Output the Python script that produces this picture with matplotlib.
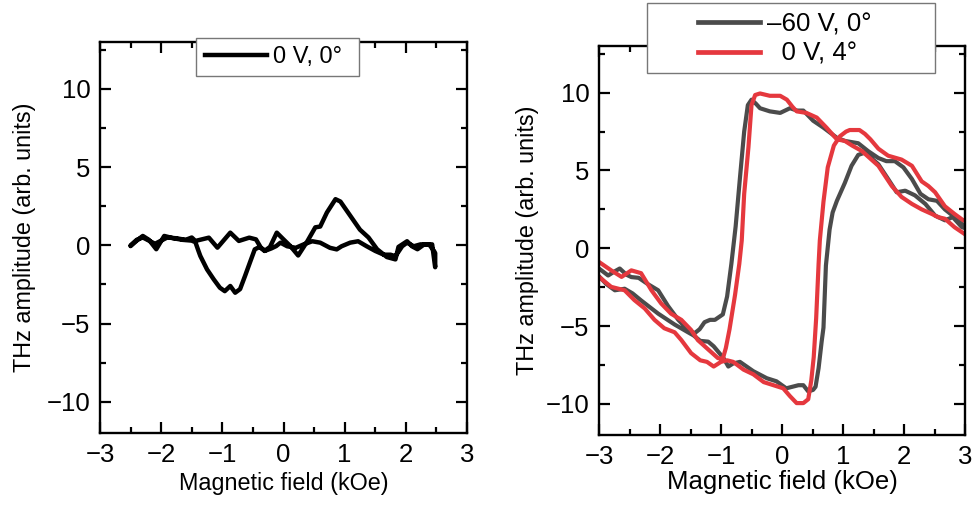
import matplotlib
matplotlib.use("Agg")
import matplotlib.pyplot as plt
from matplotlib.ticker import MultipleLocator
from matplotlib.patches import Rectangle
from matplotlib.lines import Line2D

plt.rcParams['font.family'] = ['Liberation Sans', 'DejaVu Sans']

# ---------------- data: left panel (0 V, 0°) ----------------
left_x_fwd = [-2.5, -2.4, -2.3, -2.2, -2.08, -1.95, -1.8, -1.65, -1.5, -1.44,
              -1.39, -1.36, -1.25, -1.14, -1.04, -0.96, -0.87, -0.79, -0.71, -0.63,
              -0.55, -0.47, -0.39, -0.31, -0.22, -0.11, 0.0, 0.11, 0.24, 0.39,
              0.52, 0.6, 0.71, 0.85, 0.93, 1.09, 1.25, 1.39, 1.53, 1.69,
              1.83, 1.88, 2.02, 2.1, 2.19, 2.3, 2.43, 2.48]
left_y_fwd = [-0.05, 0.3, 0.6, 0.35, -0.25, 0.6, 0.45, 0.35, 0.3, 0.2,
              -0.36, -0.68, -1.54, -2.18, -2.71, -2.93, -2.6, -3.03, -2.8, -1.97,
              -1.11, -0.26, -0.1, -0.36, -0.1, 0.81, 0.38, -0.04, -0.65, 0.26,
              1.15, 1.2, 2.1, 2.95, 2.8, 1.9, 1.0, 0.5, -0.25, -0.75,
              -0.9, -0.1, 0.26, -0.06, -0.25, 0.06, 0.06, -1.4]
left_x_bwd = [2.48, 2.46, 2.38, 2.24, 2.13, 2.02, 1.94, 1.83, 1.75, 1.64,
              1.5, 1.36, 1.22, 1.09, 0.95, 0.87, 0.76, 0.6, 0.47, 0.33,
              0.2, 0.06, -0.05, -0.12, -0.2, -0.3, -0.37, -0.45, -0.56, -0.73,
              -0.87, -1.08, -1.22, -1.44, -1.5, -1.6, -1.75, -1.9, -2.0, -2.1,
              -2.2, -2.3, -2.4, -2.5]
left_y_bwd = [-0.5, -0.36, 0.06, 0.06, -0.06, 0.17, -0.06, -0.7, -0.6, -0.6,
              -0.36, -0.06, 0.26, 0.17, -0.06, -0.26, -0.16, 0.17, 0.26, 0.06,
              -0.16, -0.06, 0.17, -0.05, -0.2, -0.35, -0.15, 0.38, 0.49, 0.28,
              0.81, -0.15, 0.49, 0.28, 0.5, 0.35, 0.45, 0.5, 0.3, 0.1,
              0.3, 0.5, 0.35, 0.0]

# ---------------- data: right panel ----------------
# -60 V, 0° (gray): branch A (left -> right), branch B (right -> left)
gray_x_a = [-3.05, -3.0, -2.85, -2.75, -2.66, -2.55, -2.47, -2.35, -2.2, -2.03,
            -1.87, -1.7, -1.54, -1.43, -1.35, -1.27, -1.18, -1.1, -0.97, -0.9,
            -0.83, -0.76, -0.69, -0.62, -0.56, -0.5, -0.43, -0.36, -0.2, -0.03,
            0.13, 0.25, 0.35, 0.51, 0.68, 0.9, 1.03, 1.25, 1.41, 1.58,
            1.71, 1.85, 1.99, 2.13, 2.27, 2.4, 2.54, 2.67, 2.83, 3.0, 3.05]
gray_y_a = [-1.15, -1.3, -1.75, -1.5, -1.3, -1.7, -1.85, -1.9, -2.3, -2.7,
            -3.7, -4.6, -5.25, -5.45, -5.2, -4.75, -4.6, -4.6, -4.25, -3.1,
            -1.0, 1.4, 4.5, 7.5, 9.2, 9.55, 9.3, 9.0, 8.8, 8.7,
            9.0, 8.85, 8.85, 8.2, 7.75, 7.1, 6.9, 6.75, 6.25, 5.8,
            5.6, 5.6, 5.2, 4.45, 3.5, 3.15, 3.05, 2.5, 2.0, 1.4, 1.3]
gray_x_b = [3.05, 3.0, 2.95, 2.8, 2.67, 2.51, 2.35, 2.18, 2.02, 1.88,
            1.74, 1.58, 1.36, 1.25, 1.14, 1.03, 0.9, 0.83, 0.78, 0.72,
            0.68, 0.65, 0.6, 0.55, 0.51, 0.43, 0.35, 0.27, 0.17, 0.07,
            -0.09, -0.25, -0.47, -0.69, -0.8, -0.88, -0.96, -1.12, -1.21, -1.34,
            -1.45, -1.54, -1.76, -2.03, -2.31, -2.45, -2.58, -2.74, -2.88, -3.0, -3.05]
gray_y_b = [1.25, 1.3, 1.35, 2.0, 1.8, 2.1, 2.85, 3.4, 3.7, 3.6,
            4.45, 5.4, 6.15, 6.0, 5.3, 4.2, 3.05, 2.3, 1.2, -1.1,
            -5.1, -6.0, -7.7, -8.9, -9.1, -9.2, -8.8, -8.8, -8.9, -9.0,
            -8.55, -8.35, -7.9, -7.3, -7.4, -7.6, -7.05, -6.3, -6.0, -5.95,
            -5.6, -5.4, -4.9, -4.2, -3.35, -2.9, -2.6, -2.7, -2.3, -1.8, -1.7]

# 0 V, 4° (red)
red_x_a = [-3.05, -3.0, -2.8, -2.63, -2.47, -2.31, -2.14, -1.98, -1.82, -1.65,
           -1.49, -1.38, -1.21, -1.05, -0.97, -0.92, -0.86, -0.77, -0.7, -0.66,
           -0.62, -0.55, -0.5, -0.44, -0.36, -0.2, -0.03, 0.08, 0.17, 0.24,
           0.4, 0.57, 0.73, 0.9, 1.03, 1.15, 1.31, 1.58, 1.8, 1.96,
           2.13, 2.29, 2.46, 2.56, 2.67, 2.83, 3.0, 3.05]
red_y_a = [-0.8, -0.88, -1.42, -1.84, -1.42, -1.6, -2.7, -3.55, -4.2, -4.6,
           -5.25, -5.9, -6.5, -7.06, -7.1, -6.4, -5.2, -3.0, -1.0, 0.5,
           3.5, 6.5, 9.2, 9.85, 9.95, 9.8, 9.8, 9.55, 9.1, 8.8,
           8.7, 8.4, 7.75, 7.0, 6.9, 6.6, 6.25, 5.3, 4.0, 3.3,
           2.85, 2.5, 2.2, 2.0, 1.9, 1.35, 0.9, 0.8]
red_x_b = [3.05, 2.97, 2.83, 2.67, 2.51, 2.4, 2.29, 2.13, 1.96, 1.74,
           1.58, 1.45, 1.36, 1.27, 1.11, 1.05, 0.95, 0.85, 0.75, 0.68,
           0.62, 0.6, 0.56, 0.52, 0.48, 0.43, 0.35, 0.24, 0.13, 0.02,
           -0.14, -0.3, -0.47, -0.63, -0.8, -0.9, -1.0, -1.12, -1.23, -1.34,
           -1.49, -1.65, -1.76, -1.93, -2.09, -2.25, -2.42, -2.58, -2.8, -3.0, -3.05]
red_y_b = [1.85, 1.8, 2.2, 2.7, 3.6, 4.0, 4.3, 5.3, 5.7, 5.95,
           6.4, 7.0, 7.35, 7.6, 7.6, 7.5, 7.2, 6.6, 5.2, 3.0,
           0.5, -1.0, -4.5, -7.0, -8.5, -9.7, -9.95, -9.95, -9.5, -9.0,
           -8.8, -8.6, -8.1, -7.8, -7.3, -7.2, -7.3, -7.6, -7.3, -7.2,
           -6.74, -5.9, -5.4, -5.14, -4.6, -3.87, -3.33, -2.7, -2.48, -1.84, -1.7]

x_ticks = [-3, -2, -1, 0, 1, 2, 3]
y_ticks = [-10, -5, 0, 5, 10]
x_label = "Magnetic field (kOe)"
y_label = "THz amplitude (arb. units)"
label_left = "0 V, 0°"
label_gray = "–60 V, 0°"
label_red = "0 V, 4°"

GRAY = "#4b4b4b"
RED = "#e5383e"
W, H = 972, 507

fig = plt.figure(figsize=(W / 100, H / 100), dpi=100)
ax1 = fig.add_axes([100 / W, 1 - 433 / H, 367 / W, 391 / H])
ax2 = fig.add_axes([599 / W, 1 - 435 / H, 366 / W, 389 / H])


def style(ax, tick_fs, label_fs, xpad, ypad):
    ax.set_xlim(-3, 3)
    ax.set_ylim(-12, 13)
    ax.set_xticks(x_ticks)
    ax.set_xticklabels([str(t).replace("-", "\u2212") for t in x_ticks])
    ax.set_yticks(y_ticks)
    ax.set_yticklabels([str(t).replace("-", "\u2212") for t in y_ticks])
    ax.xaxis.set_minor_locator(MultipleLocator(0.5))
    ax.yaxis.set_minor_locator(MultipleLocator(2.5))
    ax.tick_params(which="both", direction="in", top=True, right=True,
                   width=1.6, labelsize=tick_fs, pad=7)
    ax.tick_params(which="major", length=8)
    ax.tick_params(which="minor", length=4)
    for s in ax.spines.values():
        s.set_linewidth(1.7)
    ax.set_xlabel(x_label, fontsize=label_fs, labelpad=xpad)
    ax.set_ylabel(y_label, fontsize=16.8, labelpad=ypad)


def frame_box(x0, y0, x1, y1):
    # legend frame in figure pixel coordinates (top-left origin)
    r = Rectangle((x0 / W, 1 - y1 / H), (x1 - x0) / W, (y1 - y0) / H,
                  transform=fig.transFigure, facecolor="white",
                  edgecolor="#777777", linewidth=1.0, zorder=4)
    fig.patches.append(r)


# left panel
ax1.plot(left_x_fwd + left_x_bwd, left_y_fwd + left_y_bwd, color="black",
         lw=3.2, solid_joinstyle="round", solid_capstyle="round")
style(ax1, 18.5, 16.8, 4, 7.5)

# right panel
ax2.plot(gray_x_a + gray_x_b, gray_y_a + gray_y_b, color=GRAY, lw=3.0,
         solid_joinstyle="round")
ax2.plot(red_x_a + red_x_b, red_y_a + red_y_b, color=RED, lw=3.0,
         solid_joinstyle="round")
style(ax2, 18.5, 18.5, 1, 5)

# legends (frames drawn manually to match the wide padding)
frame_box(196, 38, 359, 76)
frame_box(647, 3, 935, 73)

h_left = Line2D([], [], color="black", lw=3.2)
fig.legend([h_left], [label_left], loc="center left",
           bbox_to_anchor=(205 / W, 1 - 57 / H), bbox_transform=fig.transFigure,
           frameon=False, fontsize=17, handlelength=62 / 23.6, handletextpad=0.25,
           borderpad=0, borderaxespad=0).set_zorder(6)

h_gray = Line2D([], [], color=GRAY, lw=3.4)
h_red = Line2D([], [], color=RED, lw=3.4)
fig.legend([h_gray, h_red], [label_gray, "  " + label_red], loc="center left",
           bbox_to_anchor=(698 / W, 1 - 39 / H), bbox_transform=fig.transFigure,
           frameon=False, fontsize=18.6, handlelength=62 / 25.8, handletextpad=0.25,
           borderpad=0, borderaxespad=0, labelspacing=0.2).set_zorder(6)

fig.savefig("out.png", dpi=100)
